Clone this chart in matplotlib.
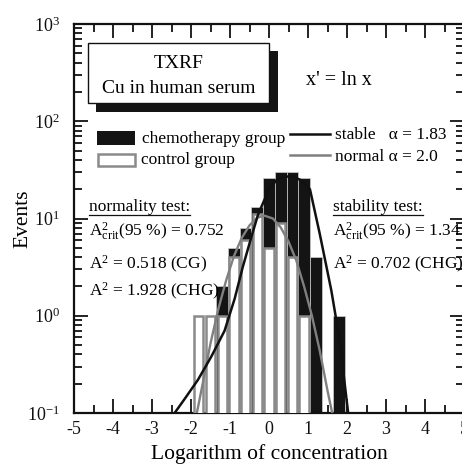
import matplotlib
matplotlib.use('Agg')
import matplotlib.pyplot as plt
from matplotlib.patches import Rectangle
from matplotlib.lines import Line2D
from matplotlib.ticker import MultipleLocator, LogLocator, NullFormatter

plt.rcParams['font.family'] = ['Liberation Serif', 'DejaVu Serif']
plt.rcParams['mathtext.fontset'] = 'custom'
plt.rcParams['mathtext.rm'] = 'Liberation Serif'
plt.rcParams['mathtext.it'] = 'Liberation Serif:italic'
plt.rcParams['axes.unicode_minus'] = False

# ---- data ----
chemo_centers = [-1.2, -0.9, -0.6, -0.3, 0.0, 0.3, 0.6, 0.9, 1.2, 1.8]
chemo_counts = [2, 5, 8, 13, 26, 30, 30, 26, 4, 1]
control_centers = [-1.8, -1.5, -1.2, -0.9, -0.6, -0.3, 0.0, 0.3, 0.6, 0.9]
control_counts = [1, 1, 1, 4, 6, 11, 5, 9, 4, 1]

stable_x = [-2.42, -2.16, -1.82, -1.48, -1.14, -0.88, -0.67, -0.45, -0.28,
            0.0, 0.2, 0.4, 0.6, 0.8, 1.05, 1.3, 1.6, 1.8, 2.03]
stable_y = [0.1, 0.14, 0.22, 0.38, 0.7, 1.5, 3.2, 6.5, 11,
            20, 25, 27, 27, 25, 20, 7, 1.8, 0.6, 0.1]
normal_x = [-1.85, -1.7, -1.5, -1.3, -1.1, -0.9, -0.7, -0.5, -0.3, -0.12,
            0.1, 0.3, 0.5, 0.7, 0.9, 1.1, 1.3, 1.5, 1.62]
normal_y = [0.1, 0.2, 0.52, 1.17, 2.3, 4.1, 6.3, 8.5, 10.2, 10.7,
            10.0, 8.1, 5.8, 3.7, 2.0, 1.0, 0.44, 0.17, 0.1]

x_ticks = [-5, -4, -3, -2, -1, 0, 1, 2, 3, 4, 5]

W, H = 462, 474
fig = plt.figure(figsize=(W / 100, H / 100), dpi=100)
ax = fig.add_axes([74 / W, (H - 413) / H, 390 / W, 389 / H])


def P(x, y):
    return (x / W, 1 - y / H)


ax.bar(chemo_centers, chemo_counts, width=0.3, bottom=1e-3,
       color='#141414', edgecolor='#cfcfcf', linewidth=0.5, zorder=2)
ax.bar(control_centers, control_counts, width=0.24, bottom=1e-3,
       color='white', edgecolor='#8a8a8a', linewidth=1.8, zorder=3)
ax.plot(normal_x, normal_y, color='#808080', lw=1.7, zorder=4,
        solid_joinstyle='round')
ax.plot(stable_x, stable_y, color='#111111', lw=1.8, zorder=5,
        solid_joinstyle='round')

ax.set_yscale('log')
ax.set_ylim(0.1, 1000)
ax.set_xlim(-5, 5)
ax.set_xticks(x_ticks)
ax.set_xticklabels([str(t) for t in x_ticks])
ax.xaxis.set_minor_locator(MultipleLocator(0.5))
ax.yaxis.set_minor_locator(LogLocator(base=10, subs=range(2, 10), numticks=20))
ax.yaxis.set_minor_formatter(NullFormatter())
ax.tick_params(which='both', direction='in', top=True, right=True,
               width=1.3, labelsize=13, colors='#111111')
ax.tick_params(which='major', length=10, pad=6)
ax.tick_params(axis='y', which='major', pad=10)
ax.tick_params(which='minor', length=6)
for s in ax.spines.values():
    s.set_linewidth(1.6)
    s.set_color('#111111')

ax.set_xlabel('Logarithm of concentration', fontsize=15.5, labelpad=4)
ax.set_ylabel('Events', fontsize=15.5, labelpad=-4)

# ---- title box with shadow ----
fig.patches.append(Rectangle(P(96, 112), 182 / W, 61 / H,
                             transform=fig.transFigure, facecolor='#141414',
                             edgecolor='none', zorder=5))
fig.patches.append(Rectangle(P(88, 103), 181 / W, 60 / H,
                             transform=fig.transFigure, facecolor='white',
                             edgecolor='#111111', linewidth=1.0, zorder=6))
fig.text(*P(178.5, 68), 'TXRF', ha='center', va='baseline', fontsize=14, zorder=7)
fig.text(*P(178.5, 93), 'Cu in human serum', ha='center', va='baseline',
         fontsize=14, zorder=7)
fig.text(*P(306, 85), "x' = ln x", ha='left', va='baseline', fontsize=14.5)

# ---- legend ----
fig.patches.append(Rectangle(P(97, 145), 38 / W, 14 / H, transform=fig.transFigure,
                             facecolor='#141414', edgecolor='none', zorder=5))
fig.patches.append(Rectangle(P(98, 166), 37 / W, 12 / H, transform=fig.transFigure,
                             facecolor='white', edgecolor='#8a8a8a',
                             linewidth=1.8, zorder=5))
fig.text(*P(142, 143), 'chemotherapy group', ha='left', va='baseline', fontsize=12.5)
fig.text(*P(141, 164), 'control group', ha='left', va='baseline', fontsize=12.5)
fig.lines.append(Line2D([290 / W, 330 / W], [1 - 134 / H] * 2,
                        transform=fig.transFigure, color='#111111', lw=1.8))
fig.lines.append(Line2D([290 / W, 330 / W], [1 - 155 / H] * 2,
                        transform=fig.transFigure, color='#808080', lw=1.8))
fig.text(*P(335, 139), 'stable   \u03b1 = 1.83', ha='left', va='baseline', fontsize=12.5)
fig.text(*P(335, 161), 'normal \u03b1 = 2.0', ha='left', va='baseline', fontsize=12.5)

# ---- tests ----
t1 = fig.text(*P(89, 211), 'normality test:', ha='left', va='baseline', fontsize=12.5)
fig.text(*P(89, 237), r'A$^{2}_{\mathrm{crit}}$(95 %) = 0.752', ha='left',
         va='baseline', fontsize=12.5)
fig.text(*P(89, 269), r'A$^{2}$ = 0.518 (CG)', ha='left', va='baseline', fontsize=12.5)
fig.text(*P(89, 296), r'A$^{2}$ = 1.928 (CHG)', ha='left', va='baseline', fontsize=12.5)
t2 = fig.text(*P(333, 211), 'stability test:', ha='left', va='baseline', fontsize=12.5)
fig.text(*P(333, 237), r'A$^{2}_{\mathrm{crit}}$(95 %) = 1.34', ha='left',
         va='baseline', fontsize=12.5)
fig.text(*P(333, 269), r'A$^{2}$ = 0.702 (CHG)', ha='left', va='baseline', fontsize=12.5)

fig.canvas.draw()
r = fig.canvas.get_renderer()
for t in (t1, t2):
    bb = t.get_window_extent(renderer=r)
    fig.lines.append(Line2D([bb.x0 / W, bb.x1 / W], [1 - 214.5 / H] * 2,
                            transform=fig.transFigure, color='#111111', lw=0.9))

fig.savefig('out.png', dpi=100)
